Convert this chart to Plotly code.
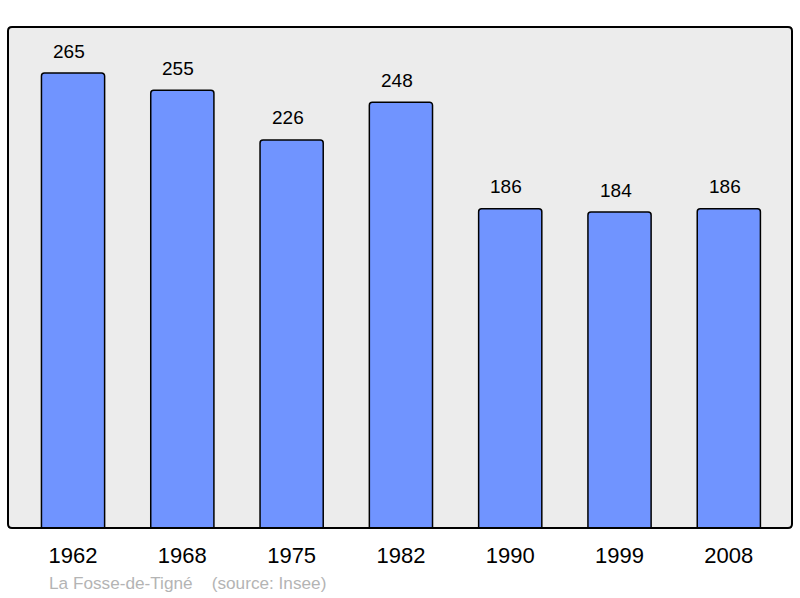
import plotly.graph_objects as go

years = ["1962", "1968", "1975", "1982", "1990", "1999", "2008"]
population = [265, 255, 226, 248, 186, 184, 186]

W, H = 800, 598
L, R, T, B = 8, 8, 27, 70
FONT = "Liberation Sans, Arial, sans-serif"

fig = go.Figure()
fig.add_trace(go.Bar(
    x=list(range(len(years))), y=population,
    width=0.578,
    marker=dict(color="#7094ff", line=dict(color="black", width=1.5), cornerradius=3),
    hoverinfo="skip",
))

for i, v in enumerate(population):
    fig.add_annotation(x=i, y=v, text=str(v), showarrow=False, yshift=22, xshift=-4,
                       font=dict(size=19, color="black", family=FONT))

# rounded frame in paper coords
pw, ph = W - L - R, H - T - B
r = 4.0
rx, ry = r / pw, r / ph
path = (f"M {rx},0 L {1-rx},0 Q 1,0 1,{ry} L 1,{1-ry} Q 1,1 {1-rx},1 "
        f"L {rx},1 Q 0,1 0,{1-ry} L 0,{ry} Q 0,0 {rx},0 Z")
fig.add_shape(type="path", path=path, xref="paper", yref="paper",
              line=dict(color="black", width=2), fillcolor="rgba(0,0,0,0)", layer="above")

fig.add_annotation(x=(47 - L) / pw, y=-(583 - (H - B)) / ph, xref="paper", yref="paper",
                   text="La Fosse-de-Tigné&nbsp;&nbsp;&nbsp;&nbsp;(source: Insee)",
                   showarrow=False, xanchor="left", yanchor="middle",
                   font=dict(size=17.2, color="#b4b4b4", family=FONT))

fig.update_layout(
    width=W, height=H,
    margin=dict(l=L, r=R, t=T, b=B),
    paper_bgcolor="white", plot_bgcolor="#ececec",
    showlegend=False,
    font=dict(family=FONT),
    xaxis=dict(range=[-0.595, 6.578], tickmode="array", tickvals=list(range(len(years))),
               ticktext=years, showgrid=False, zeroline=False, ticks="",
               tickfont=dict(size=22, color="black"), ticklabelstandoff=12, fixedrange=True),
    yaxis=dict(range=[0, 291.8], showgrid=False, zeroline=False, showticklabels=False,
               ticks="", fixedrange=True),
)

fig.write_html("out.html", config={"displayModeBar": False},
               post_script="document.body.style.margin='0';document.body.style.overflow='hidden';")
